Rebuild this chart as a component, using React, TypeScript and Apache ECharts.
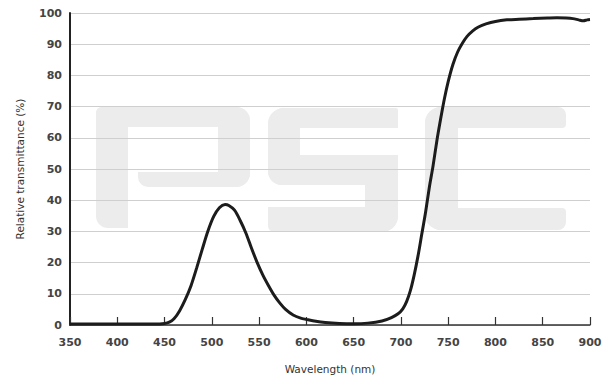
import React, { useEffect, useRef } from "react";
import * as echarts from "echarts";

// Transmittance curve: wavelength (nm) and relative transmittance (%)
const wavelengths = [
  350, 400, 440, 450, 455, 460, 466, 472, 478, 484, 490, 496, 502, 508, 514, 518,
  524, 530, 536, 542, 548, 554, 560, 566, 572, 578, 586, 594, 600, 610, 620, 635,
  650, 665, 680, 690, 697, 702, 706, 710, 714, 718, 722, 726, 730, 734, 738, 742,
  746, 750, 755, 760, 765, 770, 776, 782, 790, 800, 812, 825, 840, 855, 865, 875,
  882, 888, 893, 897, 900,
];
const transmittance = [
  0.3, 0.3, 0.3, 0.5, 0.9, 2, 4.6, 8.2, 12.6, 18.3, 24.4, 30.2, 34.8, 37.6, 38.6, 38.3,
  36.8, 33.5, 29.5, 24.6, 20, 16, 12.6, 9.5, 7.0, 5.0, 3.2, 2.2, 1.8, 1.2, 0.8, 0.5,
  0.4, 0.6, 1.3, 2.4, 3.6, 5.2, 7.5, 11, 16, 22, 29, 36, 44, 51, 59, 66,
  72.5, 78, 83.5, 87.5, 90.3, 92.5, 94.3, 95.5, 96.5, 97.3, 97.8, 98.0, 98.2, 98.4, 98.5, 98.4,
  98.2, 97.8, 97.5, 97.8, 97.9,
];

const xTicks = { min: 350, max: 900, step: 50 };
const yTicks = { min: 0, max: 100, step: 10 };

const FONT = "DejaVu Sans, Verdana, sans-serif";
const MARK = "#ececec";

// Light "PSC" watermark built from rounded rectangles
const block = (x: number, y: number, w: number, h: number, r: number[]) => ({
  type: "rect",
  z: -1,
  silent: true,
  shape: { x, y, width: w, height: h, r },
  style: { fill: MARK },
});

const watermark = [
  // P
  block(96, 107, 32, 121, [6, 0, 0, 12]),
  block(96, 107, 154, 20, [6, 14, 0, 0]),
  block(218, 107, 32, 80, [0, 14, 14, 0]),
  block(138, 172, 112, 15, [0, 0, 14, 10]),
  // S
  block(268, 108, 130, 20, [16, 2, 0, 0]),
  block(268, 108, 32, 77, [16, 0, 0, 14]),
  block(268, 155, 130, 30, [0, 16, 0, 14]),
  block(365, 155, 33, 77, [16, 0, 16, 0]),
  block(268, 207, 130, 25, [0, 0, 16, 6]),
  // C
  block(425, 107, 141, 21, [16, 8, 4, 0]),
  block(425, 107, 33, 123, [16, 0, 0, 16]),
  block(425, 208, 141, 22, [0, 4, 8, 16]),
];

export default function App() {
  const ref = useRef<HTMLDivElement>(null);

  useEffect(() => {
    if (!ref.current) return;
    const chart = echarts.init(ref.current, undefined, { renderer: "svg" });
    const points = wavelengths.map((w, i) => [w, transmittance[i]]);

    chart.setOption({
      animation: false,
      backgroundColor: "#ffffff",
      textStyle: { fontFamily: FONT },
      grid: { left: 70, right: 21, top: 13, bottom: 56, containLabel: false },
      graphic: watermark,
      xAxis: {
        type: "value",
        min: xTicks.min,
        max: xTicks.max,
        interval: xTicks.step,
        name: "Wavelength (nm)",
        nameLocation: "middle",
        nameGap: 38,
        nameTextStyle: { fontFamily: FONT, fontSize: 10.5, color: "#333" },
        axisLine: { show: true, lineStyle: { color: "#333", width: 1.5 } },
        axisTick: { show: true, inside: true, length: 8, lineStyle: { color: "#333", width: 1.2 } },
        axisLabel: { fontFamily: FONT, fontSize: 11, fontWeight: "bold", color: "#444", margin: 12 },
        splitLine: { show: false },
      },
      yAxis: {
        type: "value",
        min: yTicks.min,
        max: yTicks.max,
        interval: yTicks.step,
        name: "Relative transmittance (%)",
        nameLocation: "middle",
        nameGap: 45,
        nameTextStyle: { fontFamily: FONT, fontSize: 10.5, color: "#333" },
        axisLine: { show: true, lineStyle: { color: "#222", width: 2 } },
        axisTick: { show: false },
        axisLabel: { fontFamily: FONT, fontSize: 11, fontWeight: "bold", color: "#444", margin: 8 },
        splitLine: { show: true, lineStyle: { color: "#cfcfcf", width: 1 } },
      },
      series: [
        {
          type: "line",
          data: points,
          smooth: 0.3,
          showSymbol: false,
          z: 3,
          lineStyle: { color: "#1c1c1c", width: 3 },
        },
      ],
    });

    return () => chart.dispose();
  }, []);

  return (
    <div
      ref={ref}
      style={{ position: "fixed", left: 0, top: 0, width: 611, height: 381, background: "#fff" }}
    />
  );
}
